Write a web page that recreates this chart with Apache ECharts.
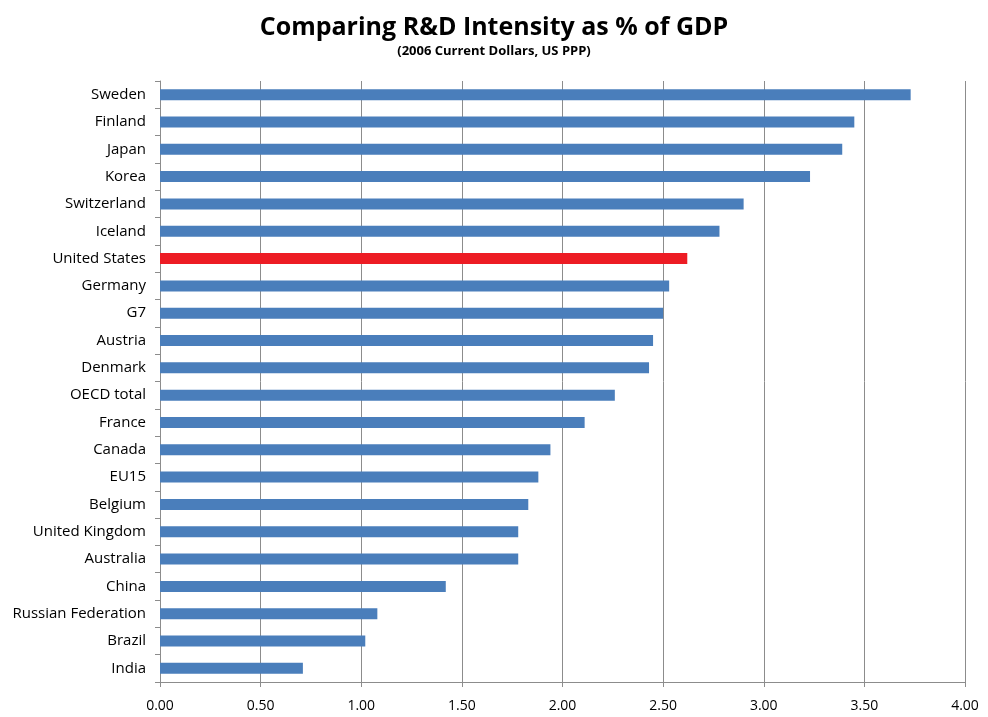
<!DOCTYPE html>
<html>
<head>
<meta charset="utf-8">
<title>Comparing R&amp;D Intensity as % of GDP</title>
<script src="https://cdn.jsdelivr.net/npm/echarts@6/dist/echarts.min.js"></script>
<style>
  html, body { margin: 0; padding: 0; background: #fff; }
  #chart { width: 988px; height: 717px; }
</style>
</head>
<body>
<div id="chart"></div>
<script>
// categories, top to bottom
const countries = [
  'Sweden', 'Finland', 'Japan', 'Korea', 'Switzerland', 'Iceland',
  'United States', 'Germany', 'G7', 'Austria', 'Denmark', 'OECD total',
  'France', 'Canada', 'EU15', 'Belgium', 'United Kingdom', 'Australia',
  'China', 'Russian Federation', 'Brazil', 'India'
]

// R&D as % of GDP
const rdIntensity = [
  3.73, 3.45, 3.39, 3.23, 2.90, 2.78,
  2.62, 2.53, 2.50, 2.45, 2.43, 2.26,
  2.11, 1.94, 1.88, 1.83, 1.78, 1.78,
  1.42, 1.08, 1.02, 0.71
]

const highlight = 'United States'
const font = '"Open Sans", "Noto Sans", sans-serif'

const chart = echarts.init(document.getElementById('chart'))

chart.setOption({
  animation: false,
  title: {
    text: 'Comparing R&D Intensity as % of GDP',
    subtext: '(2006 Current Dollars, US PPP)',
    left: 'center',
    top: 10,
    itemGap: 5,
    textStyle: { fontFamily: font, fontSize: 25, fontWeight: 'bold', color: '#000' },
    subtextStyle: { fontFamily: font, fontSize: 13, fontWeight: 'bold', color: '#000' }
  },
  grid: { left: 160, right: 23, top: 81, bottom: 35, containLabel: false },
  xAxis: {
    type: 'value',
    min: 0,
    max: 4,
    interval: 0.5,
    axisLine: { show: true, lineStyle: { color: '#8c8c8c' } },
    axisTick: { show: true, length: 5, lineStyle: { color: '#8c8c8c' } },
    axisLabel: {
      margin: 17,
      fontFamily: font,
      fontSize: 14,
      color: '#000',
      formatter: v => v.toFixed(2)
    },
    splitLine: { show: true, lineStyle: { color: '#8c8c8c', width: 1 } }
  },
  yAxis: {
    type: 'category',
    data: countries,
    inverse: true,
    axisLine: { show: true, lineStyle: { color: '#8c8c8c' } },
    axisTick: { show: true, length: 5, lineStyle: { color: '#8c8c8c' } },
    axisLabel: { margin: 14, fontFamily: font, fontSize: 15, color: '#000' },
    splitLine: { show: false }
  },
  series: [{
    type: 'bar',
    barWidth: 11,
    data: rdIntensity.map((v, i) => ({
      value: v,
      itemStyle: { color: countries[i] === highlight ? '#ED1C24' : '#4A7EBB' }
    }))
  }]
})
</script>
</body>
</html>
